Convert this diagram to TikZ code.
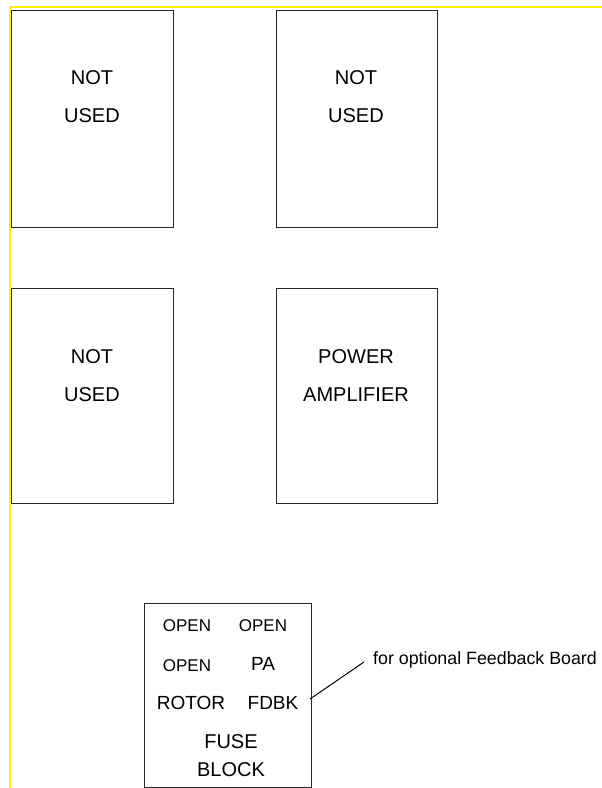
\documentclass[tikz,border=0pt]{standalone}
\usepackage{fontspec}
\setmainfont{Liberation Sans}
\begin{document}
\begin{tikzpicture}[x=1pt,y=-1pt,
  bay/.style={draw=black!85,line width=1pt},
  bigtxt/.style={align=center,inner sep=0pt,font=\fontsize{20}{38}\selectfont},
  smalltxt/.style={inner sep=0pt,font=\fontsize{17}{20}\selectfont},
  midtxt/.style={inner sep=0pt,font=\fontsize{19}{22}\selectfont},
  rail/.style={draw=yellow,line width=2pt}]
\useasboundingbox (0,0) rectangle (602,788);
% yellow frame lines
\coordinate (ytl) at (10,7);
\coordinate (ytr) at (602,7);
\coordinate (ybl) at (10,788);
\draw[rail] (ytr) -- (ytl) -- (ybl);
% bays
\draw[bay] (11,10) rectangle (173,227);
\draw[bay] (276,10) rectangle (437,227);
\draw[bay] (11,288) rectangle (173,503);
\draw[bay] (276,288) rectangle (437,503);
\node[bigtxt] (t1) at (92,97) {NOT\\USED};
\node[bigtxt] (t2) at (356,97) {NOT\\USED};
\node[bigtxt] (t3) at (92,376) {NOT\\USED};
\node[bigtxt] (t4) at (356,376) {POWER\\AMPLIFIER};
% fuse block
\draw[bay] (144,603) rectangle (311,787);
\node[smalltxt] (o1) at (187,626) {OPEN};
\node[smalltxt] (o2) at (263,626) {OPEN};
\node[smalltxt] (o3) at (187,666) {OPEN};
\node[midtxt] (pa) at (263,664) {PA};
\node[midtxt] (rot) at (191,703) {ROTOR};
\node[midtxt] (fdbk) at (273,703) {FDBK};
\node[bigtxt] (fuse) at (231,756) {FUSE\\[-10pt]BLOCK};
% annotation
\node[inner sep=0pt,anchor=base west,font=\fontsize{17.8}{20}\selectfont] (note) at (373,664) {for optional Feedback Board};
\coordinate (ls) at (310,699);
\coordinate (le) at (364,662);
\draw[line width=1pt] (ls) -- (le);
\end{tikzpicture}
\end{document}
